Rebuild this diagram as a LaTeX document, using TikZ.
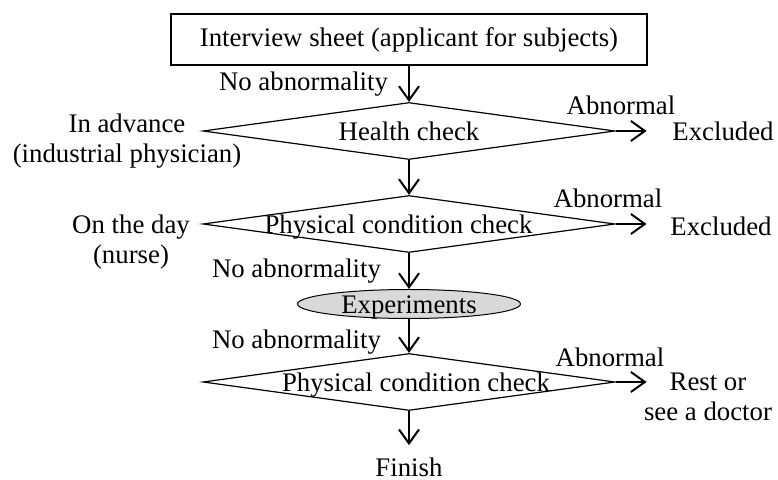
\documentclass[tikz,border=0pt]{standalone}
\usepackage{fontspec}
\setmainfont{Liberation Serif}
\usetikzlibrary{positioning,shapes.geometric,arrows.meta}
\definecolor{expgray}{RGB}{217,217,217}
\newcommand{\myLabel}[2][0pt]{\makebox[0pt]{\kern#1\raisebox{-5pt}[0pt][0pt]{#2}}}
\tikzstyle{block} = [draw, rectangle, line width=0.6pt, minimum width=238pt, minimum height=25.5pt, inner sep=0pt]
\tikzstyle{decision} = [draw, diamond, line width=0.6pt, minimum width=206pt, minimum height=28.5pt, inner sep=0pt]
\tikzstyle{oval} = [draw, ellipse, fill=expgray, line width=0.5pt, minimum width=111.5pt, minimum height=14.5pt, inner sep=0pt]
\tikzstyle{note} = [inner sep=0pt, align=center]
\tikzstyle{output} = [coordinate]
\tikzstyle{flow} = [-{Straight Barb[length=7pt,width=10pt]}, line width=1pt]

\begin{document}
\begin{tikzpicture}[x=0.5pt, y=-0.5pt, font=\fontsize{13.4pt}{15pt}\selectfont]
        \useasboundingbox (0,0) rectangle (778,480);
        \node [block] (sheet) at (409,39.5) {Interview sheet (applicant for subjects)};
        \node [decision, below of=sheet, node distance=45.75pt] (hc) {\myLabel{Health check}};
        \node [decision, below of=hc, node distance=46.5pt] (pc1) {\myLabel[-10.5pt]{Physical condition check}};
        \node [oval, below of=pc1, node distance=40pt] (exp) {\myLabel{Experiments}};
        \node [decision, below of=exp, node distance=39pt] (pc2) {\myLabel[7pt]{Physical condition check}};
        \node [note, below of=pc2, node distance=42.5pt] (finish) {Finish};

        % who checks
        \node [note, left of=hc, node distance=141pt, yshift=-5pt] (advance) {In advance\\(industrial physician)};
        \node [note, left of=pc1, node distance=139pt, yshift=-9pt] (day) {On the day\\(nurse)};

        % abnormal branches
        \node [note, right of=hc, node distance=106pt, yshift=13pt] (ab1) {Abnormal};
        \node [note, right of=pc1, node distance=99.5pt, yshift=13pt] (ab2) {Abnormal};
        \node [note, right of=pc2, node distance=100.5pt, yshift=12.5pt] (ab3) {Abnormal};
        \node [note, right of=hc, node distance=157pt] (excl1) {Excluded};
        \node [note, right of=pc1, node distance=156pt, yshift=-1pt] (excl2) {Excluded};
        \node [note, right of=pc2, node distance=149.5pt, yshift=-7.5pt] (rest) {Rest or\\see a doctor};
        \node [output, right=15.5pt of hc.east] (out1) {};
        \node [output, right=15.5pt of pc1.east] (out2) {};
        \node [output, right=15.5pt of pc2.east] (out3) {};

        \draw [flow] (sheet) -- node [note, left=10pt] (na1) {No abnormality} (hc);
        \draw [flow] (hc) -- (pc1);
        \draw [flow] (pc1) -- node [note, left=13.5pt] (na2) {No abnormality} (exp);
        \draw [flow] (exp) -- node [note, left=13.5pt, pos=0.67] (na3) {No abnormality} (pc2);
        \draw [flow, shorten >=6pt] (pc2) -- (finish);

        \draw [flow] (hc.east) -- (out1);
        \draw [flow] (pc1.east) -- (out2);
        \draw [flow] (pc2.east) -- (out3);
    \end{tikzpicture}
\end{document}
